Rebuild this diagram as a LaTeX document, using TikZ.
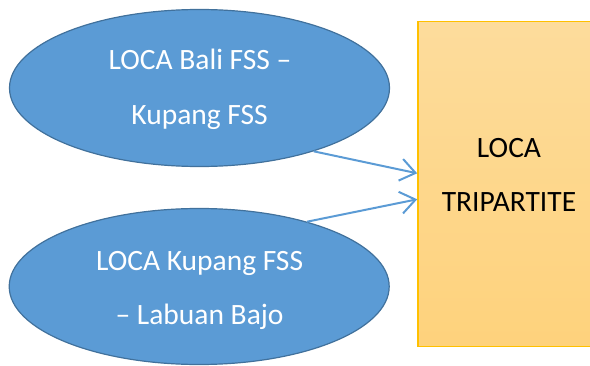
\documentclass[tikz,border=0pt]{standalone}
\usepackage{fontspec}
\setmainfont{Carlito}
\usetikzlibrary{shapes.geometric,arrows.meta}
\definecolor{ellfill}{RGB}{91,155,213}
\definecolor{elldraw}{RGB}{65,113,156}
\definecolor{recttop}{RGB}{253,220,156}
\definecolor{rectbot}{RGB}{254,210,124}
\definecolor{rectdraw}{RGB}{255,192,0}
\tikzset{
  x=1pt,y=1pt,
  oval/.style={ellipse,draw=elldraw,line width=1.2pt,fill=ellfill,minimum width=380pt,minimum height=157pt,inner sep=0pt},
  wtext/.style={text=white,font=\fontsize{29.5}{34}\selectfont,anchor=base,inner sep=0pt},
  btext/.style={text=black,font=\fontsize{29.5}{34}\selectfont,anchor=base,inner sep=0pt},
  conn/.style={draw=ellfill,line width=2pt,-{Straight Barb[length=15pt,width=22pt,line width=2pt]}},
  box/.style={rectangle,draw=rectdraw,line width=1.6pt,top color=recttop,bottom color=rectbot,minimum width=182pt,minimum height=324.8pt,inner sep=0pt}
}
\begin{document}
\begin{tikzpicture}
\useasboundingbox (0,0) rectangle (590,365);
\clip (0,0) rectangle (590,365);
\node[oval] (e1) at (199.5,277) {};
\node[oval,minimum height=156pt] (e2) at (199.2,78.5) {};
\node[box] (r) at (509,180.9) {};
\node[wtext] (e1a) at (200,295.5) {LOCA Bali FSS –};
\node[wtext] (e1b) at (199.6,240.7) {Kupang FSS};
\node[wtext] (e2a) at (199.6,94.3) {LOCA Kupang FSS};
\node[wtext] (e2b) at (199.6,41) {– Labuan Bajo};
\node[btext] (ra) at (509,207.3) {LOCA};
\node[btext] (rb) at (509,153.3) {TRIPARTITE};
\draw[conn] (e1.-29.2) -- ([yshift=10.8pt]r.west);
\draw[conn] (e2.31.7) -- ([yshift=-15.2pt]r.west);
\end{tikzpicture}
\end{document}
